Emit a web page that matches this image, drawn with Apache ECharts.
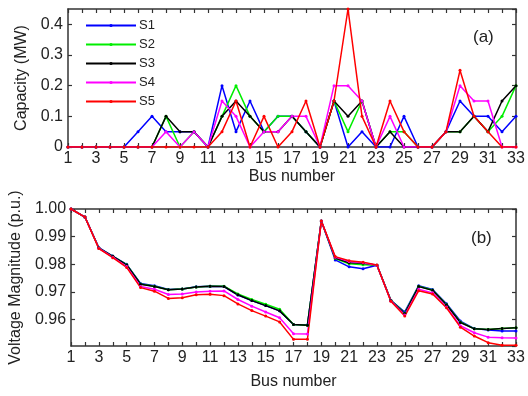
<!DOCTYPE html>
<html>
<head>
<meta charset="utf-8">
<script src="https://cdn.jsdelivr.net/npm/echarts@6/dist/echarts.min.js"></script>
<style>html,body{margin:0;padding:0;background:#fff;}#c{width:528px;height:396px;}</style>
</head>
<body>
<div id="c"></div>
<script>
const buses = ['1','2','3','4','5','6','7','8','9','10','11','12','13','14','15','16','17','18','19','20','21','22','23','24','25','26','27','28','29','30','31','32','33'];
const seriesNames = ['S1','S2','S3','S4','S5'];
const seriesColors = ['#0000ff','#00ee00','#000000','#ff00ff','#ff0000'];

// (a) Capacity (MW)
const capS1 = [0,0,0,0,0,0.05,0.1,0.05,0.05,0.05,0,0.2,0.05,0.15,0.05,0.1,0.1,0.05,0,0.15,0,0.05,0,0,0.1,0,0,0.05,0.15,0.1,0.1,0.05,0.1];
const capS2 = [0,0,0,0,0,0,0,0.1,0,0.05,0,0.1,0.2,0.1,0.05,0.1,0.1,0.05,0,0.15,0.05,0.15,0,0.05,0.05,0,0,0.05,0.05,0.1,0.05,0.1,0.2];
const capS3 = [0,0,0,0,0,0,0,0.1,0.05,0.05,0,0.1,0.15,0.1,0.05,0.05,0.1,0.05,0,0.15,0.1,0.15,0,0.05,0,0,0,0.05,0.05,0.1,0.05,0.15,0.2];
const capS4 = [0,0,0,0,0,0,0,0.05,0,0.05,0,0.15,0.1,0,0.05,0.05,0.1,0.1,0,0.2,0.2,0.15,0,0.1,0,0,0,0.05,0.2,0.15,0.15,0,0];
const capS5 = [0,0,0,0,0,0,0,0,0,0,0,0.05,0.15,0,0.1,0,0.05,0.15,0,0.15,0.45,0.1,0,0.15,0.05,0,0,0.05,0.25,0.1,0.05,0,0];

// (b) Voltage magnitude (p.u.)
const volS1 = [1.0000,0.9971,0.9860,0.9830,0.9800,0.9731,0.9723,0.9709,0.9711,0.9719,0.9721,0.9720,0.9689,0.9669,0.9651,0.9632,0.9583,0.9581,0.9957,0.9816,0.9791,0.9784,0.9797,0.9670,0.9628,0.9723,0.9709,0.9658,0.9595,0.9568,0.9563,0.9559,0.9559];
const volS2 = [1.0000,0.9971,0.9859,0.9829,0.9799,0.9729,0.9721,0.9708,0.9711,0.9718,0.9721,0.9721,0.9693,0.9673,0.9656,0.9638,0.9583,0.9580,0.9957,0.9821,0.9802,0.9799,0.9797,0.9670,0.9624,0.9721,0.9707,0.9655,0.9592,0.9567,0.9565,0.9568,0.9571];
const volS3 = [1.0000,0.9971,0.9859,0.9829,0.9798,0.9728,0.9720,0.9708,0.9711,0.9718,0.9721,0.9720,0.9690,0.9669,0.9651,0.9632,0.9583,0.9580,0.9957,0.9823,0.9806,0.9804,0.9797,0.9669,0.9622,0.9720,0.9706,0.9654,0.9590,0.9567,0.9565,0.9568,0.9571];
const volS4 = [1.0000,0.9971,0.9858,0.9826,0.9792,0.9720,0.9710,0.9691,0.9693,0.9700,0.9703,0.9704,0.9673,0.9649,0.9628,0.9607,0.9549,0.9548,0.9957,0.9826,0.9810,0.9806,0.9797,0.9668,0.9617,0.9710,0.9697,0.9646,0.9578,0.9553,0.9537,0.9535,0.9534];
const volS5 = [1.0000,0.9971,0.9857,0.9824,0.9789,0.9716,0.9703,0.9677,0.9679,0.9690,0.9692,0.9687,0.9657,0.9633,0.9613,0.9592,0.9529,0.9529,0.9957,0.9828,0.9813,0.9808,0.9798,0.9667,0.9613,0.9705,0.9693,0.9643,0.9573,0.9541,0.9517,0.9508,0.9508];

const capData = [capS1, capS2, capS3, capS4, capS5];
const volData = [volS1, volS2, volS3, volS4, volS5];

const FONT = 'Liberation Sans';
const AX = '#333';
const lineAx = {show: true, onZero: false, lineStyle: {color: AX, width: 1.5}};
const tickIn = {show: true, inside: true, length: 4, lineStyle: {color: AX, width: 1.2}};

function bottomX(gi, name, gap) {
  return {type: 'category', gridIndex: gi, position: 'bottom', data: buses, boundaryGap: false,
    axisLine: lineAx, axisTick: Object.assign({interval: 0}, tickIn),
    axisLabel: {interval: 1, color: '#222', fontSize: 16, fontFamily: FONT, margin: 4},
    name: name, nameLocation: 'middle', nameGap: gap,
    nameTextStyle: {color: '#222', fontSize: 16, fontFamily: FONT},
    splitLine: {show: false}};
}
function topX(gi) {
  return {type: 'category', gridIndex: gi, position: 'top', data: buses, boundaryGap: false,
    axisLine: lineAx, axisTick: Object.assign({interval: 0}, tickIn),
    axisLabel: {show: false}, splitLine: {show: false}};
}

const series = [];
for (let i = 0; i < 5; i++) {
  series.push({name: seriesNames[i], type: 'line', xAxisIndex: 0, yAxisIndex: 0, data: capData[i],
    symbol: 'circle', symbolSize: 3, showSymbol: true, color: seriesColors[i],
    lineStyle: {width: 1.5, color: seriesColors[i]}, itemStyle: {color: seriesColors[i]}, animation: false});
}
for (let i = 0; i < 5; i++) {
  series.push({name: seriesNames[i], type: 'line', xAxisIndex: 2, yAxisIndex: 2, data: volData[i],
    symbol: 'circle', symbolSize: 3, showSymbol: true, color: seriesColors[i],
    lineStyle: {width: 1.5, color: seriesColors[i]}, itemStyle: {color: seriesColors[i]}, animation: false});
}

const option = {
  backgroundColor: '#fff',
  animation: false,
  textStyle: {fontFamily: FONT},
  grid: [
    {left: 68, right: 12, top: 9, height: 138},
    {left: 68, right: 12, top: 209, height: 137}
  ],
  xAxis: [bottomX(0, 'Bus number', 22), topX(0), bottomX(1, 'Bus number', 28), topX(1)],
  yAxis: [
    {type: 'value', gridIndex: 0, position: 'left', min: 0, max: 0.45, interval: 0.1,
      axisLine: lineAx, axisTick: tickIn, splitLine: {show: false},
      axisLabel: {showMaxLabel: false, color: '#222', fontSize: 16, fontFamily: FONT, margin: 5,
        formatter: v => v === 0 ? '0' : v.toFixed(1)},
      name: 'Capacity (MW)', nameLocation: 'middle', nameGap: 31,
      nameTextStyle: {color: '#222', fontSize: 16, fontFamily: FONT}},
    {type: 'value', gridIndex: 0, position: 'right', min: 0, max: 0.45, interval: 0.1,
      axisLine: lineAx, axisTick: tickIn, axisLabel: {show: false}, splitLine: {show: false}},
    {type: 'value', gridIndex: 1, position: 'left', min: 0.9505, max: 1.0, splitNumber: 5,
      axisLine: lineAx, axisTick: tickIn, splitLine: {show: false},
      axisLabel: {showMinLabel: false, color: '#222', fontSize: 16, fontFamily: FONT, margin: 5,
        formatter: v => v.toFixed(2)},
      name: 'Voltage Magnitude (p.u.)', nameLocation: 'middle', nameGap: 40,
      nameTextStyle: {color: '#222', fontSize: 16, fontFamily: FONT}},
    {type: 'value', gridIndex: 1, position: 'right', min: 0.9505, max: 1.0, splitNumber: 5,
      axisLine: lineAx, axisTick: tickIn, axisLabel: {show: false}, splitLine: {show: false}}
  ],
  legend: {
    data: seriesNames, orient: 'vertical', left: 85, top: 19, padding: 0,
    itemWidth: 50, itemHeight: 4, itemGap: 6,
    textStyle: {fontSize: 13, color: '#222', fontFamily: FONT, padding: [0, 0, 0, -2]},
    backgroundColor: 'transparent'
  },
  graphic: [
    {type: 'text', left: 473, top: 29, style: {text: '(a)', fontSize: 17, fill: '#222', fontFamily: FONT}},
    {type: 'text', left: 471, top: 230, style: {text: '(b)', fontSize: 17, fill: '#222', fontFamily: FONT}}
  ],
  series: series
};

const chart = echarts.init(document.getElementById('c'), null, {renderer: 'canvas'});
chart.setOption(option);
</script>
</body>
</html>
